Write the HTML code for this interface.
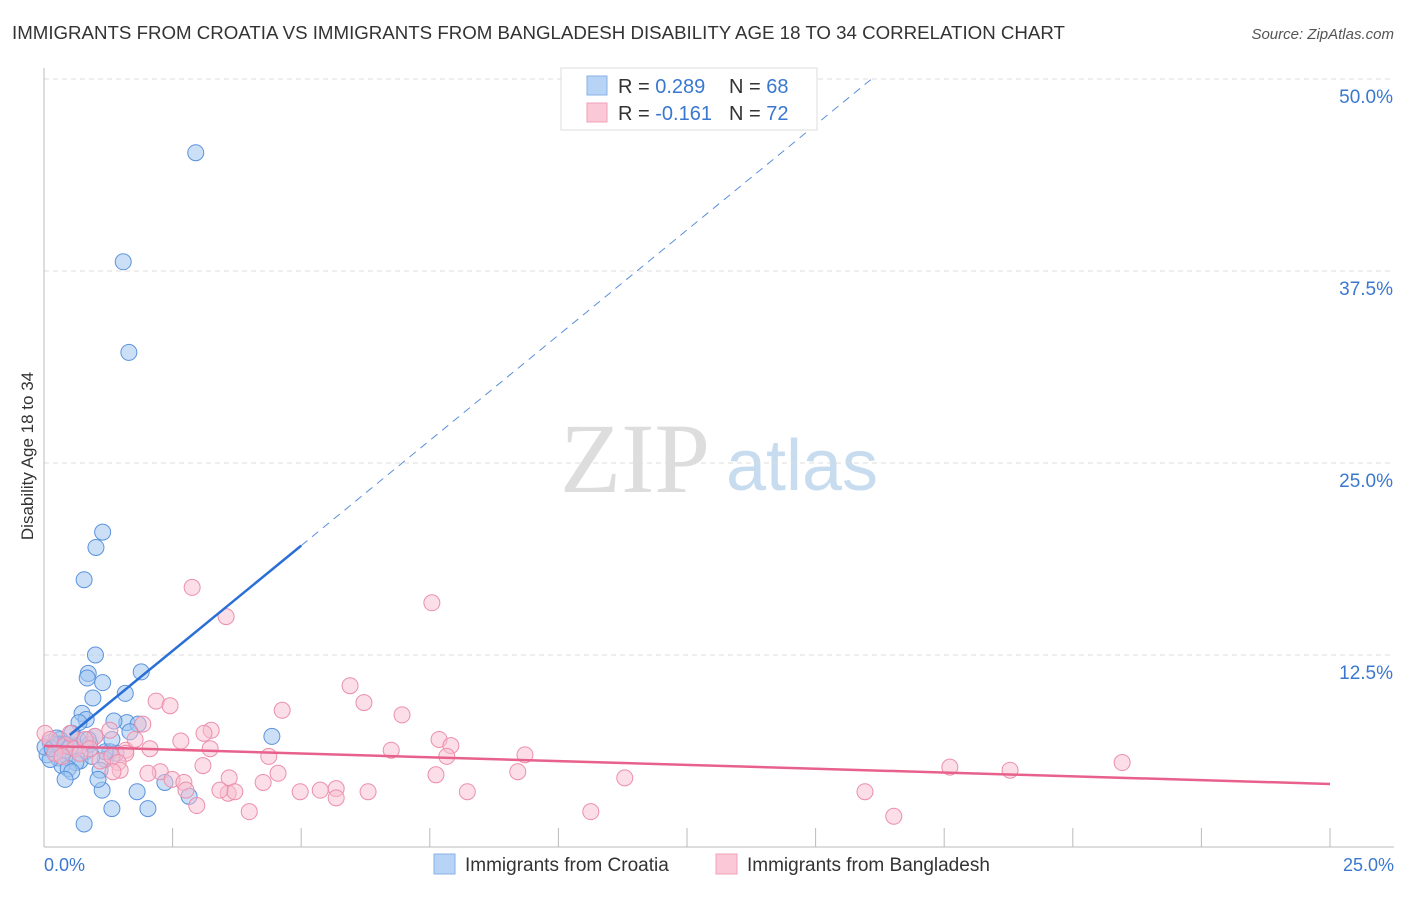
<!DOCTYPE html>
<html><head><meta charset="utf-8"><style>
body{margin:0;background:#fff;font-family:"Liberation Sans",sans-serif}
</style></head><body>
<svg id="c" width="1406" height="892" viewBox="0 0 1406 892" font-family="Liberation Sans, sans-serif">
<text x="12" y="39" font-size="18.7" fill="#333">IMMIGRANTS FROM CROATIA VS IMMIGRANTS FROM BANGLADESH DISABILITY AGE 18 TO 34 CORRELATION CHART</text>
<text x="1394" y="39" font-size="15" fill="#555" text-anchor="end" font-style="italic">Source: ZipAtlas.com</text>
<text x="33" y="456" font-size="17" fill="#333" text-anchor="middle" transform="rotate(-90 33 456)">Disability Age 18 to 34</text>
<g><text x="635" y="492" font-size="100" fill="#ddd" text-anchor="middle" style="font-family:'Liberation Serif',serif">ZIP</text><text x="802" y="490" font-size="72" fill="#c8dcf0" text-anchor="middle">atlas</text></g>
<g id="grid"></g><g id="pts"></g><g id="lines"></g>
<g>
<rect x="561" y="68" width="256" height="62" fill="#fff" stroke="#ddd"/>
<rect x="587" y="76" width="20" height="19" fill="#b7d3f5" stroke="#8ab2e6"/>
<rect x="587" y="103" width="20" height="19" fill="#fbc8d7" stroke="#f0a0b8"/>
<text x="618" y="93" font-size="20" fill="#333">R = <tspan fill="#3a78d0">0.289</tspan></text>
<text x="729" y="93" font-size="20" fill="#333">N = <tspan fill="#3a78d0">68</tspan></text>
<text x="618" y="120" font-size="20" fill="#333">R = <tspan fill="#3a78d0">-0.161</tspan></text>
<text x="729" y="120" font-size="20" fill="#333">N = <tspan fill="#3a78d0">72</tspan></text>
</g>
<g>
<rect x="434" y="854" width="21" height="20" fill="#b7d3f5" stroke="#8ab2e6"/>
<text x="465" y="871" font-size="19" fill="#333">Immigrants from Croatia</text>
<rect x="716" y="854" width="21" height="20" fill="#fbc8d7" stroke="#f0a0b8"/>
<text x="747" y="871" font-size="19" fill="#333">Immigrants from Bangladesh</text>
</g>
</svg>
<script>
const xTicks=[0,2.5,5,7.5,10,12.5,15,17.5,20,22.5,25];
const yTicks=[12.5,25,37.5,50];
const yTickLabels=["12.5%","25.0%","37.5%","50.0%"];
const xLabels=["0.0%","25.0%"];
const croatiaX=[2.95,1.54,1.65,1.14,1.01,0.78,1.0,0.86,0.84,1.14,1.89,0.95,1.58,0.74,0.82,0.68,1.61,1.36,1.83,1.67,0.99,0.54,0.31,0.12,0.21,0.41,0.6,0.8,0.27,0.06,0.47,1.28,1.4,1.19,0.7,0.62,0.35,0.47,0.12,1.09,0.54,1.13,0.41,1.05,1.81,2.35,2.82,1.32,2.02,0.78,4.43,0.41,0.21,0.66,0.89,0.31,1.19,0.02,0.16,0.51,0.93,0.86,0.25,1.32];
const croatiaY=[45.2,38.1,32.2,20.5,19.5,17.4,12.5,11.3,11.0,10.7,11.4,9.7,10.0,8.7,8.3,8.1,8.1,8.2,8.0,7.5,7.2,7.4,7.0,6.8,6.5,6.3,6.6,6.2,5.8,6.0,5.8,6.2,6.1,5.7,5.6,5.5,5.3,5.1,5.7,5.0,4.9,3.7,4.4,4.4,3.6,4.2,3.3,2.5,2.5,1.5,7.2,6.7,6.7,7.0,6.7,6.7,6.2,6.5,6.4,6.5,5.9,7.0,7.1,7.0];
const bangX=[2.88,3.54,7.54,5.95,6.22,2.18,2.45,4.63,6.96,1.92,3.25,3.11,2.66,7.68,7.91,6.75,9.35,4.37,7.83,3.09,1.28,0.99,1.59,2.06,2.26,2.02,2.49,2.72,3.6,4.26,4.55,3.58,3.71,4.98,5.37,5.68,5.68,6.3,8.23,7.62,9.21,11.29,17.61,18.78,20.96,10.63,15.96,16.52,3.99,2.97,2.76,1.59,1.09,0.41,0.21,0.02,0.6,0.8,0.35,1.32,1.44,1.48,1.34,3.23,1.77,3.42,0.12,0.51,0.89,0.7];
const bangY=[16.9,15.0,15.9,10.5,9.4,9.5,9.2,8.9,8.6,8.0,7.6,7.4,6.9,7.0,6.6,6.3,6.0,5.9,5.9,5.3,7.6,7.2,6.3,6.4,4.9,4.8,4.4,4.2,4.5,4.2,4.8,3.5,3.6,3.6,3.7,3.8,3.2,3.6,3.6,4.7,4.9,4.5,5.2,5.0,5.5,2.3,3.6,2.0,2.3,2.7,3.7,6.1,5.6,6.6,6.1,7.4,6.4,7.0,5.9,5.9,5.5,5.0,4.9,6.4,7.0,3.7,7.0,7.4,6.4,6.1];
const croatiaFit=[5.92,2.74];
const bangFit=[6.58,-0.099];
const NS="http://www.w3.org/2000/svg";
const X0=44,X1=1330,Y0=847,YS=15.36;
const sx=v=>X0+(X1-X0)*v/25, sy=v=>Y0-v*YS;
function mk(t,a,p){const e=document.createElementNS(NS,t);for(const k in a)e.setAttribute(k,a[k]);p.appendChild(e);return e;}
const g=document.getElementById('grid');
yTicks.forEach((v,i)=>{
 const l=mk('line',{x1:X0,x2:1394,y1:sy(v),y2:sy(v),stroke:'#ddd','stroke-dasharray':'5,4'},g);
 
 
 const t=mk('text',{x:1393,y:sy(v)+24,'font-size':19,fill:'#3a78d0','text-anchor':'end'},g);
 t.textContent=yTickLabels[i];
 
 
});
const ax=mk('line',{x1:X0,x2:X0,y1:68,y2:Y0,stroke:'#bbb'},g);


const bx=mk('line',{x1:X0,x2:1394,y1:Y0,y2:Y0,stroke:'#bbb'},g);


xTicks.forEach(v=>{
 const l=mk('line',{x1:sx(v),x2:sx(v),y1:828,y2:Y0,stroke:'#bbb'},g);
 
 
});
[[0,'start',44],[25,'end',1394]].forEach((d,i)=>{
 const t=mk('text',{x:d[2],y:871,'font-size':18,fill:'#3a78d0','text-anchor':d[1]},g);
 t.textContent=xLabels[i];
 
 
});
const p=document.getElementById('pts');
croatiaX.forEach((x,i)=>{
 const c=mk('circle',{cx:sx(x),cy:sy(croatiaY[i]),r:8,fill:'rgba(160,196,240,0.55)',stroke:'#5b93dc','stroke-width':1},p);
 
 
});
bangX.forEach((x,i)=>{
 const c=mk('circle',{cx:sx(x),cy:sy(bangY[i]),r:8,fill:'rgba(248,190,208,0.5)',stroke:'#ec8fab','stroke-width':1},p);
 
 
});
const L=document.getElementById('lines');
const f=(fit,x)=>fit[0]+fit[1]*x;
let a=mk('line',{x1:sx(0.5),y1:sy(f(croatiaFit,0.5)),x2:sx(5),y2:sy(f(croatiaFit,5)),stroke:'#2a6fd6','stroke-width':2.5},L);


a=mk('line',{x1:sx(5),y1:sy(f(croatiaFit,5)),x2:sx(16.1),y2:sy(f(croatiaFit,16.1)),stroke:'#5b8fd8','stroke-width':1,'stroke-dasharray':'8,6'},L);


a=mk('line',{x1:sx(0),y1:sy(f(bangFit,0)),x2:sx(25),y2:sy(f(bangFit,25)),stroke:'#e8618c','stroke-width':2.5},L);


</script>
</body></html>
